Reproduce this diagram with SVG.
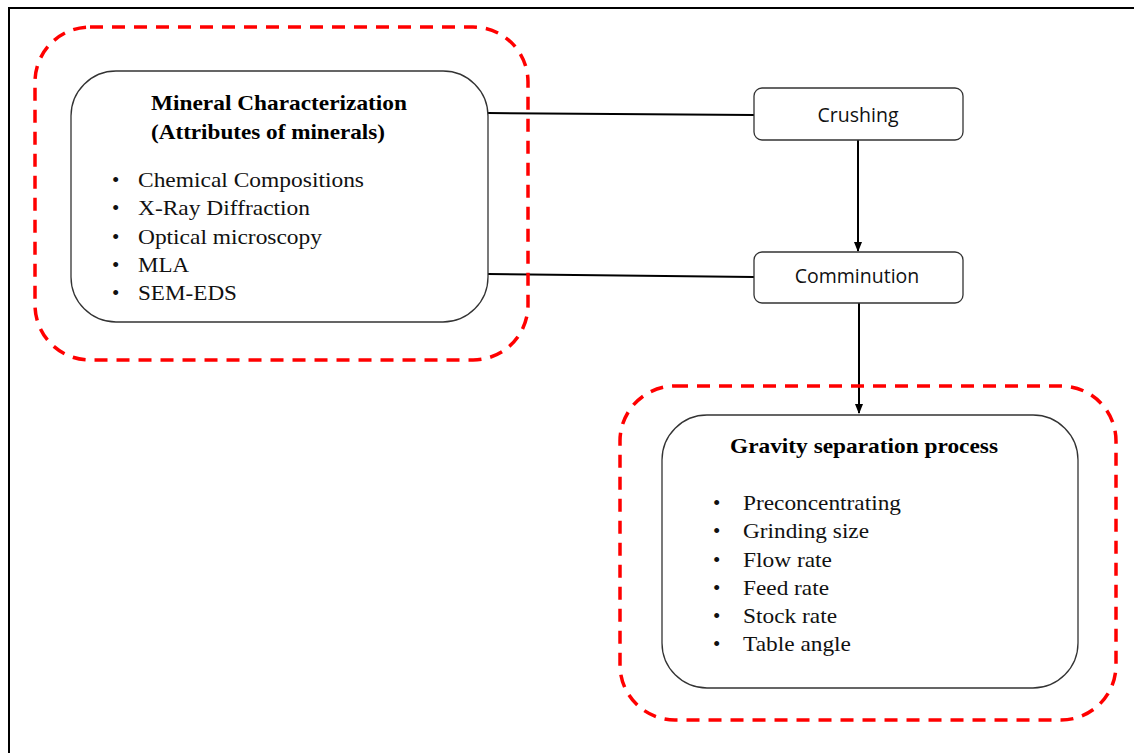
<svg xmlns="http://www.w3.org/2000/svg" width="1134" height="753" viewBox="0 0 1134 753">
<style>
.frame{fill:none;stroke:#000;stroke-width:2}
.red{fill:none;stroke:#ff0000;stroke-width:3.5;stroke-dasharray:13 9}
.box{fill:#fff;stroke:#333;stroke-width:1.3}
.conn{fill:none;stroke:#000;stroke-width:2}
.title{font-family:"Liberation Serif",serif;font-weight:bold;font-size:21px;fill:#000}
.item{font-family:"Liberation Serif",serif;font-size:21px;fill:#111}
.step{font-family:"Open Sans","Liberation Sans",sans-serif;font-size:19.5px;fill:#111}
</style>
<defs>
<marker id="ah" viewBox="0 0 10 10" refX="9" refY="5" markerWidth="5" markerHeight="5" orient="auto" markerUnits="strokeWidth">
<path d="M0,1 L10,5 L0,9 z" fill="#000"/>
</marker>
</defs>
<rect width="1134" height="753" fill="#fff"/>
<path class="frame" d="M9,753 L9,8 L1134,8"/>
<g id="connectors">
<line class="conn" x1="488" y1="113" x2="754" y2="115"/>
<line class="conn" x1="488" y1="274" x2="754" y2="277"/>
<line class="conn" x1="858" y1="140" x2="858" y2="251" marker-end="url(#ah)"/>
<line class="conn" x1="859" y1="303" x2="859" y2="413" marker-end="url(#ah)"/>
</g>
<g id="group-characterization">
<rect class="red" x="35" y="27" width="493" height="333" rx="55"/>
</g>
<g id="node-characterization">
<rect class="box" x="71" y="71" width="417" height="251" rx="45"/>
<text class="title" x="151" y="110" textLength="256" lengthAdjust="spacingAndGlyphs">Mineral Characterization</text>
<text class="title" x="151" y="139" textLength="234" lengthAdjust="spacingAndGlyphs">(Attributes of minerals)</text>
<g class="item">
<text x="112" y="187">•</text><text x="138" y="187" textLength="226" lengthAdjust="spacingAndGlyphs">Chemical Compositions</text>
<text x="112" y="215">•</text><text x="138" y="215" textLength="172" lengthAdjust="spacingAndGlyphs">X-Ray Diffraction</text>
<text x="112" y="244">•</text><text x="138" y="244" textLength="184" lengthAdjust="spacingAndGlyphs">Optical microscopy</text>
<text x="112" y="272">•</text><text x="138" y="272" textLength="51" lengthAdjust="spacingAndGlyphs">MLA</text>
<text x="112" y="300">•</text><text x="138" y="300" textLength="99" lengthAdjust="spacingAndGlyphs">SEM-EDS</text>
</g>
</g>
<g id="node-crushing">
<rect class="box" x="754" y="88" width="209" height="52" rx="8"/>
<text class="step" x="858" y="122" text-anchor="middle">Crushing</text>
</g>
<g id="node-comminution">
<rect class="box" x="754" y="252" width="209" height="51" rx="8"/>
<text class="step" x="857" y="283" text-anchor="middle">Comminution</text>
</g>
<g id="group-gravity">
<rect class="red" x="620" y="386" width="496" height="334" rx="55"/>
</g>
<g id="node-gravity">
<rect class="box" x="662" y="415" width="416" height="273" rx="45"/>
<text class="title" x="730" y="453" textLength="268" lengthAdjust="spacingAndGlyphs">Gravity separation process</text>
<g class="item">
<text x="713" y="510">•</text><text x="743" y="510" textLength="158" lengthAdjust="spacingAndGlyphs">Preconcentrating</text>
<text x="713" y="538">•</text><text x="743" y="538" textLength="126" lengthAdjust="spacingAndGlyphs">Grinding size</text>
<text x="713" y="567">•</text><text x="743" y="567" textLength="89" lengthAdjust="spacingAndGlyphs">Flow rate</text>
<text x="713" y="595">•</text><text x="743" y="595" textLength="86" lengthAdjust="spacingAndGlyphs">Feed rate</text>
<text x="713" y="623">•</text><text x="743" y="623" textLength="94" lengthAdjust="spacingAndGlyphs">Stock rate</text>
<text x="713" y="651">•</text><text x="743" y="651" textLength="108" lengthAdjust="spacingAndGlyphs">Table angle</text>
</g>
</g>
</svg>
